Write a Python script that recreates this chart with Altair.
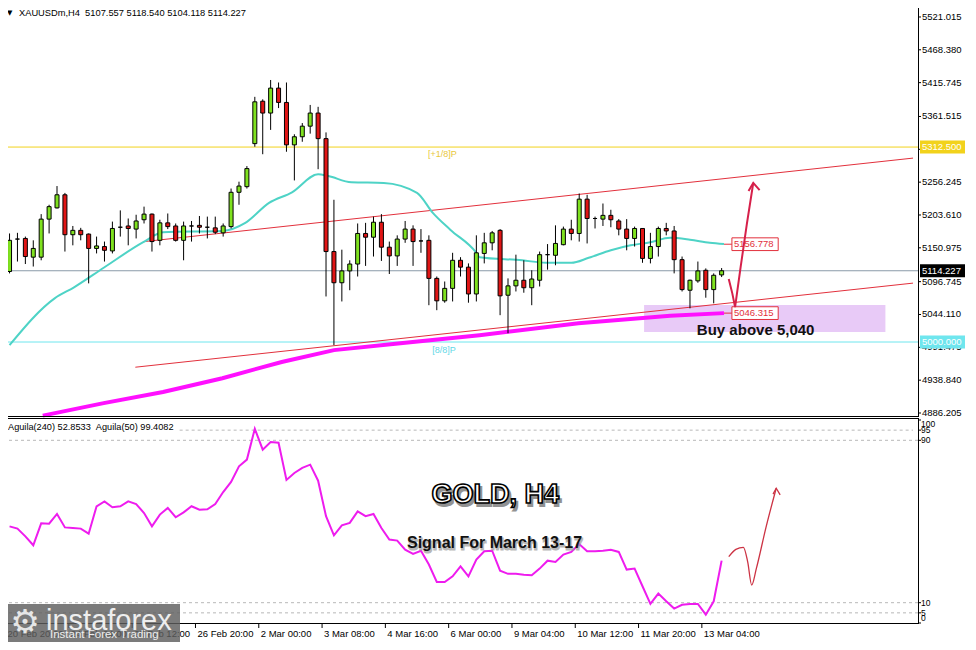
import altair as alt
import pandas as pd

# ---------------- values ----------------
candle_open = [5113, 5165, 5166, 5136, 5136, 5197, 5215, 5236, 5172, 5179,
               5173, 5150, 5153, 5146, 5184, 5186, 5181, 5196, 5205, 5163,
               5191, 5186, 5163, 5186, 5187, 5184, 5183, 5175, 5185, 5240,
               5249, 5318, 5386, 5367, 5407, 5384, 5316, 5329, 5346, 5367,
               5326, 5145, 5095, 5114, 5125, 5174, 5168, 5192, 5152, 5138,
               5165, 5181, 5162, 5163, 5102, 5066, 5086, 5131, 5120, 5077,
               5142, 5159, 5179, 5075, 5090, 5099, 5087, 5099, 5140, 5139,
               5156, 5181, 5174, 5229, 5198, 5197, 5203, 5194, 5181, 5166,
               5182, 5134, 5153, 5182, 5178, 5132, 5083, 5098, 5115, 5084,
               5107.557]
candle_high = [5174, 5175, 5169, 5163, 5205, 5220, 5250, 5239, 5186, 5183,
               5174, 5169, 5161, 5193, 5211, 5198, 5204, 5217, 5206, 5196,
               5206, 5190, 5193, 5194, 5202, 5201, 5201, 5190, 5246, 5257,
               5282, 5393, 5389, 5420, 5416, 5416, 5333, 5351, 5380, 5377,
               5336, 5228, 5148, 5131, 5190, 5191, 5201, 5205, 5161, 5171,
               5194, 5187, 5181, 5171, 5105, 5097, 5143, 5136, 5126, 5171,
               5175, 5178, 5181, 5102, 5140, 5131, 5115, 5145, 5157, 5187,
               5185, 5196, 5238, 5236, 5201, 5222, 5212, 5197, 5197, 5185,
               5182, 5175, 5185, 5191, 5186, 5137, 5100, 5129, 5118, 5110,
               5118.540]
candle_low = [5110, 5129, 5125, 5121, 5131, 5174, 5214, 5145, 5155, 5163,
              5094, 5142, 5129, 5142, 5169, 5155, 5166, 5190, 5145, 5155,
              5181, 5161, 5131, 5161, 5174, 5166, 5173, 5169, 5182, 5220,
              5246, 5313, 5301, 5340, 5375, 5305, 5259, 5321, 5334, 5277,
              5073, 4995, 5065, 5083, 5105, 5122, 5137, 5130, 5109, 5122,
              5159, 5122, 5143, 5059, 5051, 5063, 5065, 5105, 5063, 5065,
              5126, 5147, 5043, 5014, 5081, 5079, 5059, 5089, 5116, 5123,
              5155, 5163, 5161, 5158, 5182, 5186, 5184, 5171, 5147, 5153,
              5127, 5126, 5137, 5171, 5110, 5081, 5054, 5095, 5071, 5062,
              5104.118]
candle_close = [5163, 5165, 5137, 5150, 5197, 5217, 5236, 5172, 5179, 5172,
                5150, 5154, 5147, 5182, 5184, 5182, 5194, 5205, 5161, 5191,
                5185, 5163, 5186, 5186, 5184, 5184, 5176, 5186, 5240, 5250,
                5278, 5385, 5367, 5407, 5384, 5316, 5329, 5346, 5367, 5326,
                5145, 5095, 5114, 5125, 5174, 5168, 5192, 5152, 5138, 5165,
                5181, 5161, 5162, 5102, 5066, 5086, 5131, 5120, 5077, 5143,
                5159, 5175, 5074, 5090, 5099, 5087, 5101, 5140, 5140, 5158,
                5181, 5174, 5229, 5198, 5198, 5203, 5196, 5181, 5166, 5182,
                5134, 5153, 5182, 5178, 5132, 5084, 5099, 5114, 5084, 5107,
                5114.227]

ma_bar = [0, 5.7, 8.2, 11.9, 16.9, 19.4, 26.9, 29.8, 32.8, 35.7, 39.0, 40.3, 43.2, 47.3,
          51.5, 53.5, 55.7, 59.0, 59.4, 64.8, 67.8, 71.0, 73.2, 76.0, 78.5, 81.0, 83.5,
          86.0, 88.5, 90.3]
ma_val = [4995, 5070, 5088, 5119, 5160, 5176, 5178, 5191, 5223, 5240, 5269, 5266, 5256, 5255,
          5239, 5207, 5180, 5143, 5136, 5131, 5127, 5127, 5135, 5147, 5155, 5160, 5167,
          5164, 5159, 5157]

ma200_bar = [4.2, 11.9, 19.4, 26.9, 34.4, 41.0, 49.4, 59.4, 71.9, 83.5, 90.3]
ma200_val = [4882, 4902, 4920, 4942, 4968, 4987, 4998, 5011, 5030, 5042, 5046.3]

aguila = [47.6, 46.5, 42.7, 38.3, 49.1, 48.9, 53.7, 47.1, 46.8, 46.5,
          44.0, 57.5, 59.9, 57.0, 57.5, 59.9, 58.6, 54.2, 47.6, 53.4,
          56.7, 52.1, 54.5, 57.5, 55.8, 56.0, 58.6, 64.5, 69.5, 77.2,
          80.5, 95.7, 85.4, 89.2, 88.8, 70.5, 73.9, 76.4, 78.0, 70.1,
          52.6, 43.2, 48.1, 49.3, 55.0, 52.6, 53.7, 46.8, 41.1, 40.6,
          36.1, 34.0, 35.6, 28.8, 20.2, 20.2, 23.0, 27.9, 23.0, 31.2,
          35.3, 35.6, 25.8, 24.2, 24.2, 23.8, 23.5, 26.8, 30.7, 30.1,
          33.7, 35.0, 38.9, 35.3, 35.3, 35.6, 36.1, 35.0, 26.3, 26.8,
          18.1, 9.4, 14.5, 10.7, 7.1, 9.0, 9.4, 9.4, 4.1, 10.7,
          30.7]

date_bar = [0, 8, 16, 24, 32, 40, 48, 56, 64, 72, 80, 88]
date_lbl = ["20 Feb 20:00", "24 Feb 04:00", "25 Feb 12:00", "26 Feb 20:00", "2 Mar 00:00",
            "3 Mar 08:00", "4 Mar 16:00", "6 Mar 00:00", "9 Mar 04:00", "10 Mar 12:00",
            "11 Mar 20:00", "13 Mar 04:00"]

price_ticks = [5521.015, 5468.380, 5415.745, 5361.515, 5308.880, 5256.245, 5203.610,
               5150.975, 5096.745, 5044.110, 4991.475, 4938.840, 4886.205]
ind_ticks = [95, 90, 10, 5]

level_up = 5312.5        # [+1/8]P
level_dn = 5000.0        # [8/8]P
last_price = 5114.227
ma_last = 5156.778
ma200_last = 5046.315

chan_upper = [(16.9, 5160.8), (114.19, 5294.8)]
chan_lower = [(15.9, 4959.6), (114.19, 5094.4)]
buy_zone = (80.2, 110.7, 5016.0, 5059.3)

arrow_bar = [90.9, 91.35, 91.7, 92.4, 93.2, 94.0]
arrow_val = [5101, 5078, 5056, 5120, 5190, 5255]
arrowhead_bar = [93.4, 94.0, 94.8]
arrowhead_val = [5242, 5255, 5243.6]

sarrow_bar = [90.9, 91.8, 92.75, 93.3, 93.8, 94.4, 95.6, 96.9]
sarrow_val = [32.7, 36.3, 37.3, 30.0, 18.7, 27.0, 47.0, 66.4]
sarrowhead_bar = [96.5, 96.9, 97.4]
sarrowhead_val = [63.5, 66.4, 63.1]

# ---------------- styles ----------------
FONT = "Liberation Sans"
GREEN = "#7FE21F"
REDC = "#E01515"
TURQ = "#4ED3C6"
MAG = "#FF10FF"
TREND = "#E2303C"
GOLD = "#F2D21C"
CYAN = "#6FE6EE"
GRAYLINE = "#8A9AA8"

X = alt.Scale(domain=[0.4375, 114.1875], nice=False, zero=False)
YP = alt.Scale(domain=[4881.4, 5535.4], range=[408, 0], nice=False, zero=False)
YI = alt.Scale(domain=[0, 100], range=[615, 412], nice=False, zero=False)


def xq(f):
    return alt.X(f, type="quantitative", scale=X, axis=None)


def yp(f):
    return alt.Y(f, type="quantitative", scale=YP, axis=None)


def yi(f):
    return alt.Y(f, type="quantitative", scale=YI, axis=None)


one = pd.DataFrame({"k": [0]})

cdf = pd.DataFrame({"i": list(range(len(candle_open))), "open": candle_open,
                    "high": candle_high, "low": candle_low, "close": candle_close})

# ---------------- main price panel ----------------
zone = alt.Chart(pd.DataFrame({"i0": [buy_zone[0]], "i1": [buy_zone[1]],
                               "p0": [buy_zone[2]], "p1": [buy_zone[3]]})).mark_rect(
    fill="#E8CAF7").encode(x=xq("i0"), x2="i1", y=yp("p0"), y2="p1")

lv_up = alt.Chart(pd.DataFrame({"p": [level_up]})).mark_rule(color=GOLD, strokeWidth=1).encode(y=yp("p"))
lv_dn = alt.Chart(pd.DataFrame({"p": [level_dn]})).mark_rule(color=CYAN, strokeWidth=1).encode(y=yp("p"))
lv_last = alt.Chart(pd.DataFrame({"p": [last_price]})).mark_rule(color=GRAYLINE, strokeWidth=1).encode(y=yp("p"))

trend_df = pd.DataFrame({"i0": [chan_upper[0][0], chan_lower[0][0]],
                         "i1": [chan_upper[1][0], chan_lower[1][0]],
                         "p0": [chan_upper[0][1], chan_lower[0][1]],
                         "p1": [chan_upper[1][1], chan_lower[1][1]]})
trend = alt.Chart(trend_df).mark_rule(color=TREND, strokeWidth=1).encode(
    x=xq("i0"), x2="i1", y=yp("p0"), y2="p1")

ma = alt.Chart(pd.DataFrame({"i": ma_bar, "p": ma_val})).mark_line(
    color=TURQ, strokeWidth=2, interpolate="monotone").encode(x=xq("i"), y=yp("p"))
ma200 = alt.Chart(pd.DataFrame({"i": ma200_bar, "p": ma200_val})).mark_line(
    color=MAG, strokeWidth=4).encode(x=xq("i"), y=yp("p"))

wicks = alt.Chart(cdf).mark_rule(color="black", strokeWidth=1).encode(
    x=xq("i"), y=yp("low"), y2="high")
bodies = alt.Chart(cdf).mark_bar(size=4, stroke="black", strokeWidth=1).encode(
    x=xq("i"), y=yp("open"), y2="close",
    fill=alt.condition("datum.close >= datum.open", alt.value(GREEN), alt.value(REDC)))

# MA end labels (red boxes)
mal_df = pd.DataFrame({"p": [ma_last, ma200_last]})
ma_conn = alt.Chart(mal_df).transform_calculate(a="90.3", b="91.3").mark_rule(
    color=TREND, strokeWidth=1).encode(x=xq("a"), x2="b", y=yp("p"))
ma_box = alt.Chart(mal_df).transform_calculate(
    a="91.3", b="97.15", lo="datum.p - 10.2", hi="datum.p + 10.2").mark_rect(
    fill="white", stroke=TREND, strokeWidth=1).encode(x=xq("a"), x2="b", y=yp("lo"), y2="hi")
ma_txt = alt.Chart(mal_df).transform_calculate(a="91.55").mark_text(
    font=FONT, fontSize=9.5, color=TREND, align="left", baseline="middle").encode(
    x=xq("a"), y=yp("p"), text=alt.Text("p:Q", format=".3f"))

# level texts
lvl_txt_df = pd.DataFrame({"t": ["[+1/8]P", "[8/8]P"], "i": [54.7, 54.9], "p": [5301.4, 4987.2],
                           "c": ["a", "b"]})
lvl_txt = alt.Chart(lvl_txt_df).mark_text(font=FONT, fontSize=9, align="center",
                                          baseline="middle").encode(
    x=xq("i"), y=yp("p"), text="t:N",
    color=alt.Color("c:N", scale=alt.Scale(domain=["a", "b"], range=["#E9C83A", "#62D8E6"]),
                    legend=None))

# arrow to the upside
arrow = alt.Chart(pd.DataFrame({"i": arrow_bar, "p": arrow_val})).mark_line(
    color="#D6204A", strokeWidth=2).encode(x=xq("i"), y=yp("p"))
arrowhead = alt.Chart(pd.DataFrame({"i": arrowhead_bar, "p": arrowhead_val})).mark_line(
    color="#D6204A", strokeWidth=2).encode(x=xq("i"), y=yp("p"))

buy_txt = alt.Chart(pd.DataFrame({"t": ["Buy above 5,040"], "i": [94.3], "p": [5019.0]})).mark_text(
    font=FONT, fontSize=15, fontWeight="bold", color="#111111", align="center",
    baseline="middle").encode(x=xq("i"), y=yp("p"), text="t:N")

# right price axis
tick_df = pd.DataFrame({"p": price_ticks})
ptick = alt.Chart(tick_df).mark_rule(color="black").encode(
    x=alt.value(910), x2=alt.value(913), y=yp("p"))
plabel = alt.Chart(tick_df).mark_text(font=FONT, fontSize=9.5, color="black", align="left",
                                      baseline="middle").encode(
    x=alt.value(914), y=yp("p"), text=alt.Text("p:Q", format=".3f"))

box_df = pd.DataFrame({"p": [level_up, last_price, level_dn], "k": ["up", "last", "dn"]})
pbox = alt.Chart(box_df).transform_calculate(lo="datum.p - 10.4", hi="datum.p + 10.4").mark_rect().encode(
    x=alt.value(912), x2=alt.value(957), y=yp("lo"), y2="hi",
    fill=alt.Color("k:N", scale=alt.Scale(domain=["up", "last", "dn"], range=[GOLD, "#000000", CYAN]),
                   legend=None))
pbox_txt = alt.Chart(box_df).mark_text(font=FONT, fontSize=9.5, color="white", align="left",
                                       baseline="middle").encode(
    x=alt.value(914), y=yp("p"), text=alt.Text("p:Q", format=".3f"))

main = alt.layer(zone, lv_up, lv_dn, lv_last, trend, ma, ma200, wicks, bodies,
                 ma_conn, ma_box, ma_txt, lvl_txt, arrow, arrowhead, buy_txt,
                 ptick, plabel, pbox, pbox_txt)

# ---------------- indicator panel ----------------
idf = pd.DataFrame({"i": list(range(len(aguila))), "v": aguila})
lv95 = alt.Chart(pd.DataFrame({"v": [ind_ticks[0]]})).transform_calculate(a="21.5", b="114.19").mark_rule(
    color="#B8B8B8", strokeDash=[3, 3]).encode(x=xq("a"), x2="b", y=yi("v"))
lv_rest = alt.Chart(pd.DataFrame({"v": ind_ticks[1:]})).mark_rule(
    color="#B8B8B8", strokeDash=[3, 3]).encode(y=yi("v"))
iline = alt.Chart(idf).mark_line(color="#EE1CEE", strokeWidth=2).encode(x=xq("i"), y=yi("v"))

sarrow = alt.Chart(pd.DataFrame({"i": sarrow_bar, "v": sarrow_val})).mark_line(
    color="#CC3344", strokeWidth=1.3, interpolate="monotone").encode(x=xq("i"), y=yi("v"))
sarrowhead = alt.Chart(pd.DataFrame({"i": sarrowhead_bar, "v": sarrowhead_val})).mark_line(
    color="#CC3344", strokeWidth=1.3).encode(x=xq("i"), y=yi("v"))

gold_df = pd.DataFrame({"t": ["GOLD, H4"], "i": [61.4], "v": [63.1]})
gold_sh = alt.Chart(gold_df).mark_text(font=FONT, fontSize=27, fontWeight="bold", fill="#3a3a3a",
                                       stroke="#3a3a3a", strokeWidth=2, opacity=0.55, dx=2, dy=3,
                                       align="center", baseline="middle").encode(
    x=xq("i"), y=yi("v"), text="t:N")
gold_txt = alt.Chart(gold_df).mark_text(font=FONT, fontSize=27, fontWeight="bold", fill="white",
                                        stroke="black", strokeWidth=1.6, align="center",
                                        baseline="middle").encode(
    x=xq("i"), y=yi("v"), text="t:N")

sig_df = pd.DataFrame({"t": ["Signal For March 13-17"], "i": [61.3], "v": [39.4]})
sig_sh = alt.Chart(sig_df).mark_text(font=FONT, fontSize=16, fontWeight="bold", fill="#9a9a9a",
                                     stroke="#9a9a9a", strokeWidth=1.2, opacity=0.7, dx=1, dy=2,
                                     align="center", baseline="middle").encode(
    x=xq("i"), y=yi("v"), text="t:N")
sig_txt = alt.Chart(sig_df).mark_text(font=FONT, fontSize=16, fontWeight="bold", color="#111111",
                                      align="center", baseline="middle").encode(
    x=xq("i"), y=yi("v"), text="t:N")

itick_df = pd.DataFrame({"v": [100] + ind_ticks + [0]})
itick = alt.Chart(itick_df).mark_rule(color="black").encode(
    x=alt.value(910), x2=alt.value(913), y=yi("v"))
ilab_mid = alt.Chart(pd.DataFrame({"v": ind_ticks})).mark_text(
    font=FONT, fontSize=8.5, color="black", align="left", baseline="middle").encode(
    x=alt.value(913), y=yi("v"), text=alt.Text("v:Q", format="d"))
ilab_top = alt.Chart(pd.DataFrame({"v": [100]})).mark_text(
    font=FONT, fontSize=8.5, color="black", align="left", baseline="middle", dy=4).encode(
    x=alt.value(913), y=yi("v"), text=alt.Text("v:Q", format="d"))
ilab_bot = alt.Chart(pd.DataFrame({"v": [0]})).mark_text(
    font=FONT, fontSize=8.5, color="black", align="left", baseline="middle", dy=-5).encode(
    x=alt.value(913), y=yi("v"), text=alt.Text("v:Q", format="d"))

ind_name = alt.Chart(pd.DataFrame({"t": ["Aguila(240) 52.8533 \u00a0Aguila(50) 99.4082"]})).mark_text(
    font=FONT, fontSize=9.2, color="black", align="left", baseline="middle").encode(
    x=alt.value(0), y=alt.value(419), text="t:N")

ind = alt.layer(lv95, lv_rest, iline, sarrow, sarrowhead, gold_sh, gold_txt, sig_sh, sig_txt,
                itick, ilab_mid, ilab_top, ilab_bot, ind_name)

# ---------------- frames, time axis, header, logo ----------------
frame_df = pd.DataFrame({"k": [0]})
frames = alt.layer(
    alt.Chart(frame_df).mark_rule(color="black").encode(x=alt.value(910.5), y=alt.value(0), y2=alt.value(408)),
    alt.Chart(frame_df).mark_rule(color="black").encode(x=alt.value(0), x2=alt.value(911), y=alt.value(408.5)),
    alt.Chart(frame_df).mark_rule(color="black").encode(x=alt.value(0), x2=alt.value(911), y=alt.value(410.5)),
    alt.Chart(frame_df).mark_rule(color="black").encode(x=alt.value(910.5), y=alt.value(410), y2=alt.value(615)),
    alt.Chart(frame_df).mark_rule(color="black").encode(x=alt.value(0), x2=alt.value(911), y=alt.value(615.5)),
)

ddf = pd.DataFrame({"i": date_bar, "t": date_lbl})
dtick = alt.Chart(ddf).transform_calculate(a="datum.i - 0.5").mark_rule(color="black").encode(
    x=xq("a"), y=alt.value(616), y2=alt.value(620))
dlab = alt.Chart(ddf).mark_text(font=FONT, fontSize=9.5, color="black", align="left",
                                baseline="middle", dx=-2).encode(
    x=xq("i"), y=alt.value(626), text="t:N")

header = alt.layer(
    alt.Chart(one).mark_text(font="DejaVu Sans", fontSize=7, color="black", align="left",
                             baseline="top", text="\u25bc").encode(x=alt.value(-1), y=alt.value(1)),
    alt.Chart(pd.DataFrame({"t": ["XAUUSDm,H4 \u00a05107.557 5118.540 5104.118 5114.227"]})).mark_text(
        font=FONT, fontSize=9.3, color="black", align="left", baseline="top").encode(
        x=alt.value(11), y=alt.value(0.5), text="t:N"),
)

logo = alt.layer(
    alt.Chart(one).mark_rect(fill="#5E5E5E", opacity=0.82).encode(
        x=alt.value(0), x2=alt.value(172), y=alt.value(596), y2=alt.value(642)),
    alt.Chart(one).mark_text(font="DejaVu Sans", fontSize=33, color="#E6E6E6", align="center",
                             baseline="middle", text="\u2699").encode(x=alt.value(17), y=alt.value(615)),
    alt.Chart(pd.DataFrame({"t": ["instaforex"]})).mark_text(
        font=FONT, fontSize=29, color="#EEEEEE", align="left", baseline="alphabetic").encode(
        x=alt.value(38), y=alt.value(622), text="t:N"),
    alt.Chart(pd.DataFrame({"t": ["Instant Forex Trading"]})).mark_text(
        font=FONT, fontSize=11.5, color="#EEEEEE", align="left", baseline="middle").encode(
        x=alt.value(42), y=alt.value(627), text="t:N"),
)

chart = alt.layer(main, ind, frames, dtick, dlab, header, logo).resolve_scale(
    y="independent").properties(
    width=910, height=615,
    padding={"left": 0, "top": 0, "right": 48, "bottom": 19},
    autosize=alt.AutoSizeParams(type="none"),
    background="white",
).configure_view(stroke=None)

chart.save("out.html", embed_options={"renderer": "svg", "actions": False})
